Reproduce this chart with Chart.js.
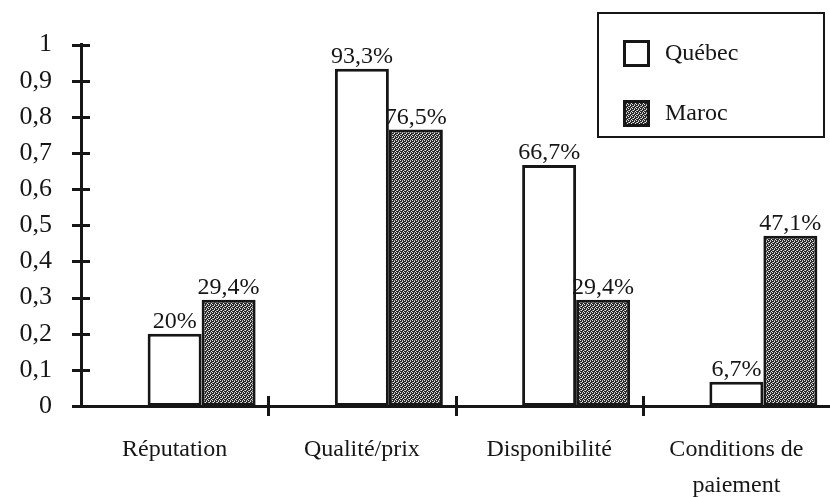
<!DOCTYPE html>
<html>
<head>
<meta charset="utf-8">
<script src="https://cdn.jsdelivr.net/npm/chart.js@4.4.1/dist/chart.umd.min.js"></script>
<style>
  html, body { margin: 0; padding: 0; background: #fff; }
  #wrap { width: 830px; height: 497px; }
</style>
</head>
<body>
<div id="wrap"><canvas id="c" width="830" height="497"></canvas></div>
<script>
// Critères de choix du fournisseur : Québec vs Maroc (proportions)
const categories = ['Réputation', 'Qualité/prix', 'Disponibilité', ['Conditions de', 'paiement']];
const quebec = [0.20, 0.933, 0.667, 0.067];
const maroc = [0.294, 0.765, 0.294, 0.471];
const yTickValues = [0, 0.1, 0.2, 0.3, 0.4, 0.5, 0.6, 0.7, 0.8, 0.9, 1];
const seriesNames = ['Québec', 'Maroc'];

const INK = '#161616';
const FONT = '"Liberation Serif", "Times New Roman", serif';

// Fine crosshatch fill used for the Maroc series
function makeHatch() {
  const rows = ['L...', '..L.', '.L..', '...L'];
  const t = document.createElement('canvas');
  t.width = 4; t.height = 4;
  const g = t.getContext('2d');
  g.fillStyle = '#2a2a2a';
  g.fillRect(0, 0, 4, 4);
  g.fillStyle = '#e6e6e6';
  rows.forEach((r, y) => { for (let x = 0; x < 4; x++) if (r[x] === 'L') g.fillRect(x, y, 1, 1); });
  g.fillStyle = '#9a9a9a';
  g.fillRect(2, 0, 1, 1);
  g.fillRect(0, 2, 1, 1);
  return document.getElementById('c').getContext('2d').createPattern(t, 'repeat');
}
const hatch = makeHatch();

function decimalComma(v) {
  return String(Math.round(v * 1000) / 1000).replace('.', ',');
}
function pct(v) {
  return String(Math.round(v * 1000) / 10).replace('.', ',') + '%';
}

// Axis tick marks that cross the axis line on both sides
const crossTicks = {
  id: 'crossTicks',
  afterDatasetsDraw(chart) {
    const { ctx, scales: { x, y } } = chart;
    ctx.save();
    ctx.strokeStyle = INK;
    ctx.lineWidth = 3;
    ctx.beginPath();
    y.ticks.forEach(t => {
      const py = Math.round(y.getPixelForValue(t.value)) + 0.5;
      ctx.moveTo(x.left - 9, py);
      ctx.lineTo(x.left + 9, py);
    });
    for (let i = 0; i < categories.length - 1; i++) {
      const px = Math.round((x.getPixelForTick(i) + x.getPixelForTick(i + 1)) / 2) + 0.5;
      ctx.moveTo(px, y.bottom - 10);
      ctx.lineTo(px, y.bottom + 10);
    }
    ctx.stroke();
    ctx.restore();
  }
};

// Percentage labels above each bar
const valueLabels = {
  id: 'valueLabels',
  afterDatasetsDraw(chart) {
    const { ctx } = chart;
    ctx.save();
    ctx.fillStyle = INK;
    ctx.font = '24px ' + FONT;
    ctx.textAlign = 'center';
    ctx.textBaseline = 'alphabetic';
    [1, 2].forEach(di => {
      const meta = chart.getDatasetMeta(di);
      const vals = chart.data.datasets[di].data;
      meta.data.forEach((bar, i) => {
        ctx.fillText(pct(vals[i]), bar.x, bar.y - 6);
      });
    });
    ctx.restore();
  }
};

// Boxed legend in the upper right corner
const boxLegend = {
  id: 'boxLegend',
  afterDraw(chart) {
    const { ctx } = chart;
    ctx.save();
    ctx.strokeStyle = INK;
    ctx.lineWidth = 2;
    ctx.strokeRect(598, 13, 226, 124);
    const items = [
      { fill: '#fff', y: 40 },
      { fill: hatch, y: 100 }
    ];
    ctx.font = '24px ' + FONT;
    ctx.textBaseline = 'middle';
    ctx.textAlign = 'left';
    items.forEach((it, i) => {
      ctx.fillStyle = it.fill;
      ctx.fillRect(623, it.y, 27, 27);
      ctx.lineWidth = 3;
      ctx.strokeRect(624.5, it.y + 1.5, 24, 24);
      ctx.fillStyle = INK;
      ctx.fillText(seriesNames[i], 665, it.y + 14);
    });
    ctx.restore();
  }
};

Chart.defaults.font.family = FONT;
Chart.defaults.color = INK;

new Chart(document.getElementById('c'), {
  type: 'bar',
  data: {
    labels: categories,
    datasets: [
      { label: '', data: categories.map(() => null) },
      {
        label: seriesNames[0], data: quebec,
        backgroundColor: '#fff', borderColor: INK, borderWidth: 3, borderSkipped: false
      },
      {
        label: seriesNames[1], data: maroc,
        backgroundColor: hatch, borderColor: INK, borderWidth: 3, borderSkipped: false
      }
    ]
  },
  options: {
    responsive: false,
    devicePixelRatio: 1,
    animation: false,
    layout: { padding: { top: 44, right: 0, left: 0, bottom: 0 } },
    datasets: { bar: { categoryPercentage: 0.865, barPercentage: 1 } },
    plugins: { legend: { display: false }, tooltip: { enabled: false } },
    scales: {
      x: {
        offset: true,
        grid: { display: false, drawTicks: false },
        border: { display: true, color: INK, width: 3 },
        ticks: { font: { size: 24, lineHeight: 1.5 }, padding: 26, maxRotation: 0, autoSkip: false, color: INK },
        afterFit(s) { s.height = 91; }
      },
      y: {
        min: 0, max: 1,
        afterBuildTicks(s) { s.ticks = yTickValues.map(v => ({ value: v })); },
        grid: { display: false, drawTicks: false },
        border: { display: true, color: INK, width: 3 },
        ticks: { font: { size: 26 }, padding: 29, color: INK, callback: v => decimalComma(v) },
        afterFit(s) { s.width = 81; }
      }
    }
  },
  plugins: [crossTicks, valueLabels, boxLegend]
});
</script>
</body>
</html>
